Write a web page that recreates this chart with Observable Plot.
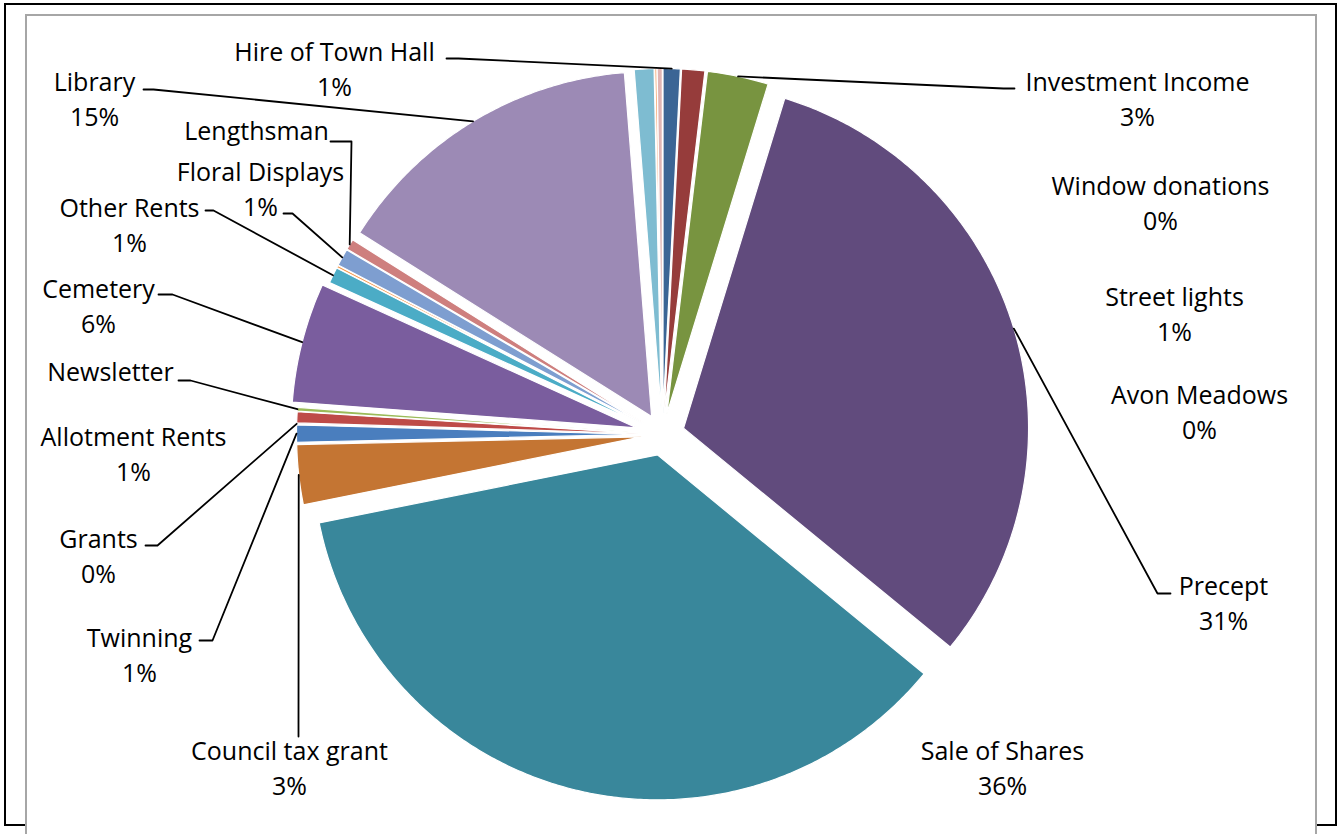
<!DOCTYPE html>
<html><head><meta charset="utf-8">
<script src="https://cdn.jsdelivr.net/npm/d3@7"></script>
<script src="https://cdn.jsdelivr.net/npm/@observablehq/plot@0.6"></script>
<style>
html,body{margin:0;padding:0;background:#fff;width:1340px;height:834px;overflow:hidden;position:relative;}
#outer{position:absolute;left:4px;top:3px;width:1333px;height:823px;box-sizing:border-box;border:2px solid #000;}
#inner{position:absolute;left:25px;top:14px;width:1292px;height:900px;box-sizing:border-box;border:2px solid #a6a6a6;background:#fff;}
#chart{position:absolute;left:0;top:0;}
</style></head><body>
<div id="outer"></div><div id="inner"></div><div id="chart"></div>
<script>
// ---- data (clockwise from 12 o'clock) ----
const categories = ["Hire of Town Hall", "", "Investment Income", "Precept", "Sale of Shares",
  "Council tax grant", "Twinning", "Grants", "Allotment Rents", "Newsletter", "Cemetery",
  "Other Rents", "", "Floral Displays", "Lengthsman", "Library", "Street lights",
  "Window donations", "Avon Meadows"];
const values = [0.8, 1.08, 2.86, 31.2, 35.9, 2.8, 0.8, 0.05, 0.52, 0.18, 5.6,
  0.75, 0.1, 0.8, 0.5, 14.8, 0.92, 0.1, 0.24];
const hidePercent = ["Newsletter", "Lengthsman"];

// ---- styles ----
const colors = ["#3B6595", "#963C3B", "#789440", "#614B7D", "#39879B", "#C47533", "#4A7EBE",
  "#C0504D", "#BE4B48", "#9BBB59", "#7A5D9E", "#4BACC6", "#F79646", "#7E9ED0", "#CE7F7E",
  "#9C8AB5", "#7EBCD1", "#F6A36A", "#E0B5B4"];
const explode = [21, 21, 21, 22, 21, 21, 21, 21, 21, 21, 27, 21, 21, 21, 21, 21, 21, 21, 21];

// ---- label layout: [category, x, y of first line, leader anchor x, y, elbow x, y] ----
const labelLayout = [
  ["Hire of Town Hall", 334, 49, 446, 58, 458, 58],
  ["Investment Income", 1137, 79, 1014, 88, 1003, 88],
  ["Window donations", 1160, 183],
  ["Street lights", 1174, 294],
  ["Avon Meadows", 1199, 392],
  ["Precept", 1223, 583, 1170, 593, 1157, 593],
  ["Sale of Shares", 1002, 748],
  ["Council tax grant", 289, 748, 298, 736, 298, 724],
  ["Twinning", 139, 635, 199, 640, 212, 640],
  ["Grants", 98, 536, 145, 545, 157, 545],
  ["Allotment Rents", 133, 434],
  ["Newsletter", 110, 369, 178, 380, 190, 380],
  ["Cemetery", 98, 286, 158, 294, 172, 294],
  ["Other Rents", 129, 205, 205, 210, 213, 210],
  ["Floral Displays", 260, 169, 283, 213, 292, 213],
  ["Lengthsman", 256, 128, 330, 141, 351, 141],
  ["Library", 94, 79, 143, 89, 153, 89]
];

// ---- geometry ----
const cx = 662, cy = 434, R = 345, W = 1340, H = 834;
const total = d3.sum(values);
let acc = 0;
const slices = values.map((v, i) => {
  const a0 = acc / total * 2 * Math.PI; acc += v;
  const a1 = acc / total * 2 * Math.PI;
  const am = (a0 + a1) / 2;
  const ox = cx + explode[i] * Math.sin(am), oy = cy - explode[i] * Math.cos(am);
  return {i, a0, a1, am, ox, oy};
});
const polyRows = [];
for (const s of slices) {
  polyRows.push({i: s.i, x: s.ox, y: s.oy});
  const n = Math.max(2, Math.ceil((s.a1 - s.a0) / (Math.PI / 360)));
  for (let k = 0; k <= n; k++) {
    const a = s.a0 + (s.a1 - s.a0) * k / n;
    polyRows.push({i: s.i, x: s.ox + R * Math.sin(a), y: s.oy - R * Math.cos(a)});
  }
  polyRows.push({i: s.i, x: s.ox, y: s.oy});
}

const labelRows = [], leaderRows = [];
labelLayout.forEach((L, k) => {
  const i = categories.indexOf(L[0]);
  const pct = Math.round(values[i] / total * 100) + "%";
  const lines = hidePercent.includes(L[0]) ? [L[0]] : [L[0], pct];
  labelRows.push({x: L[1], y: L[2] + (lines.length - 1) * 17.5, text: lines.join("\n")});
  if (L.length > 3) {
    const s = slices[i];
    leaderRows.push({k, x: L[3], y: L[4]});
    leaderRows.push({k, x: L[5], y: L[6]});
    leaderRows.push({k, x: s.ox + R * Math.sin(s.am), y: s.oy - R * Math.cos(s.am)});
  }
});

const chart = Plot.plot({
  width: W, height: H,
  margin: 0,
  style: {background: "transparent", overflow: "visible"},
  x: {domain: [0, W], range: [0, W], axis: null},
  y: {domain: [0, H], range: [0, H], axis: null},
  color: {type: "identity"},
  marks: [
    Plot.line(polyRows, {x: "x", y: "y", z: "i", fill: d => colors[d.i], stroke: "#ffffff", strokeWidth: 1.2, curve: "linear"}),
    Plot.line(leaderRows, {x: "x", y: "y", z: "k", stroke: "#000", strokeWidth: 1.8, curve: "linear"}),
    Plot.text(labelRows, {x: "x", y: "y", text: "text", fontSize: 25, fontFamily: "Open Sans", fill: "#000",
      textAnchor: "middle", lineAnchor: "middle", lineHeight: 1.4})
  ]
});
document.getElementById("chart").appendChild(chart);
</script>
</body></html>
